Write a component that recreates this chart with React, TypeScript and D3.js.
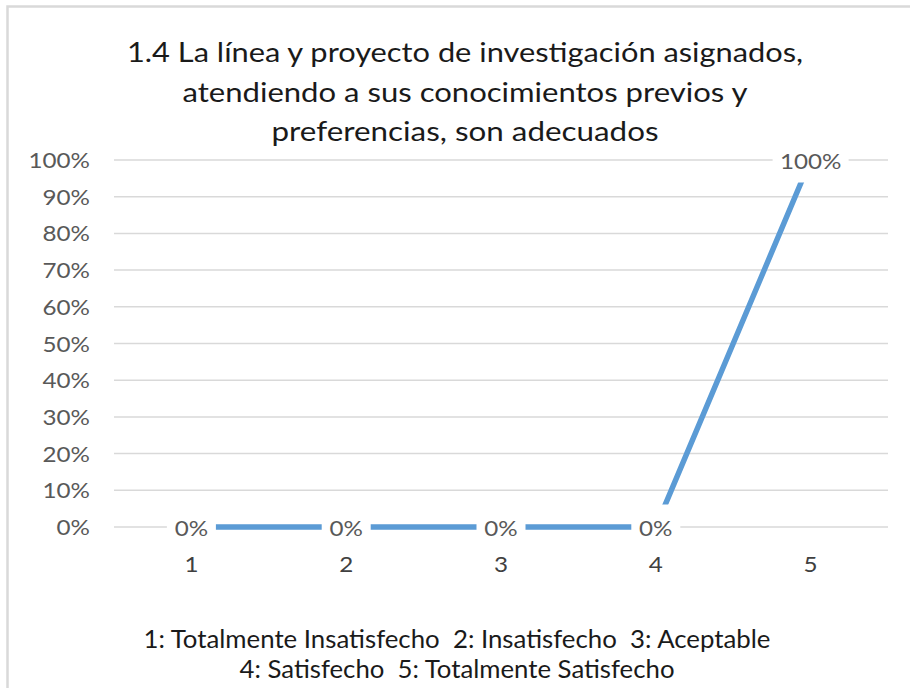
import React from "react";
import * as d3 from "d3";

const titleLines = [
  "1.4 La línea y proyecto de investigación asignados,",
  "atendiendo a sus conocimientos previos y",
  "preferencias, son adecuados",
];
const categories = ["1", "2", "3", "4", "5"];
const values = [0, 0, 0, 0, 1];
const yTicks = [0, 0.1, 0.2, 0.3, 0.4, 0.5, 0.6, 0.7, 0.8, 0.9, 1];
const captionLines = [
  "1: Totalmente Insatisfecho  2: Insatisfecho  3: Aceptable",
  "4: Satisfecho  5: Totalmente Satisfecho",
];

const W = 910;
const H = 688;
const FONT = "Lato, 'Open Sans', 'DejaVu Sans', sans-serif";
const SX = 1.1;

export default function App() {
  const x = d3.scalePoint<string>().domain(categories).range([114, 888]).padding(0.5);
  const y = d3.scaleLinear().domain([0, 1]).range([527, 160]);
  const pct = d3.format(".0%");
  const line = d3
    .line<number>()
    .x((_, i) => x(categories[i]) as number)
    .y((d) => y(d));

  const titleWidths = [676, 565, 387];
  const titleBaselines = [62, 102, 141];
  const captionWidths = [627, 435];
  const captionBaselines = [648, 678];

  return (
    <svg
      width={W}
      height={H}
      style={{ position: "absolute", left: 0, top: 0, background: "#fff" }}
      fontFamily={FONT}
    >
      <rect x={0} y={0} width={W} height={H} fill="#fff" />
      <rect x={7.5} y={6.5} width={W + 20} height={H + 20} fill="none" stroke="#d9d9d9" strokeWidth={2.5} />

      {titleLines.map((t, i) => (
        <text
          key={"t" + i}
          x={465}
          y={titleBaselines[i]}
          textAnchor="middle"
          fontSize={27}
          fill="#1a1a1a"
          textLength={titleWidths[i]}
          lengthAdjust="spacingAndGlyphs"
        >
          {t}
        </text>
      ))}

      {yTicks.map((t) => (
        <g key={"g" + t}>
          <line x1={114} x2={888} y1={y(t)} y2={y(t)} stroke="#d9d9d9" strokeWidth={1.5} />
          <text
            transform={`translate(90,${y(t) + 8}) scale(${SX},1)`}
            textAnchor="end"
            fontSize={22}
            fill="#595959"
          >
            {pct(t)}
          </text>
        </g>
      ))}

      <path d={line(values) || ""} fill="none" stroke="#5B9BD5" strokeWidth={5.5} />

      {values.map((v, i) => {
        const label = pct(v);
        const w = label.length * 13.5 + 22;
        return (
          <g key={"l" + i}>
            <rect
              x={(x(categories[i]) as number) - w / 2}
              y={y(v) - 22.5}
              width={w}
              height={45}
              fill="#fff"
            />
            <text
              transform={`translate(${x(categories[i])},${y(v) + 8.5}) scale(${SX},1)`}
              textAnchor="middle"
              fontSize={22}
              fill="#595959"
            >
              {label}
            </text>
          </g>
        );
      })}

      {categories.map((c) => (
        <text
          key={"x" + c}
          transform={`translate(${x(c)},572) scale(${SX},1)`}
          textAnchor="middle"
          fontSize={22}
          fill="#404040"
        >
          {c}
        </text>
      ))}

      {captionLines.map((t, i) => (
        <text
          key={"c" + i}
          x={457}
          y={captionBaselines[i]}
          textAnchor="middle"
          fontSize={25}
          fill="#1a1a1a"
          textLength={captionWidths[i]}
          lengthAdjust="spacingAndGlyphs"
          style={{ whiteSpace: "pre" }}
        >
          {t}
        </text>
      ))}
    </svg>
  );
}
